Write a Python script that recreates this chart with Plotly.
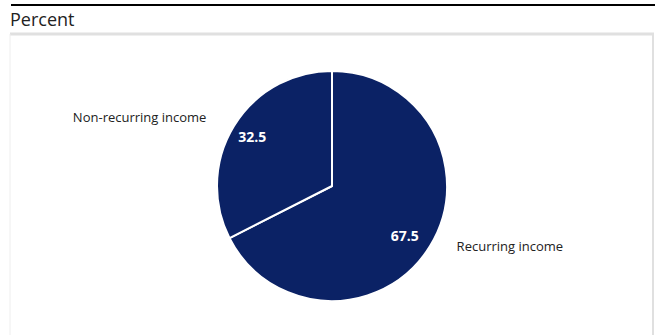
import plotly.graph_objects as go

labels = ["Recurring income", "Non-recurring income"]
values = [67.5, 32.5]
value_text = ["67.5", "32.5"]
title_text = "Percent"

NAVY = "#0b2265"
FONT = "Open Sans"

W, H = 659, 335

def px_dom(x0, x1, ytop, ybot):
    return dict(x=[x0 / W, x1 / W], y=[(H - ybot) / H, (H - ytop) / H])

CX, CY = 332, 186

def circle_dom(r, dx=0, dy=0):
    cx, cy = CX + dx, CY + dy
    return px_dom(cx - r, cx + r, cy - r, cy + r)

common = dict(labels=labels, values=values, sort=False, direction="clockwise", rotation=0,
              showlegend=False)

fig = go.Figure()

# main pie
fig.add_trace(go.Pie(
    **common, textinfo="none",
    marker=dict(colors=[NAVY, NAVY], line=dict(color="white", width=2)),
    domain=circle_dom(115),
    hoverinfo="label+value",
))

# per-slice transparent pies carrying values (white bold) and category labels
value_offsets = [(-9, 8), (2, -8)]
label_offsets = [(5, -13), (-6, 4)]
for i in range(len(labels)):
    vt = [value_text[j] if j == i else "" for j in range(len(labels))]
    fig.add_trace(go.Pie(
        **common, text=vt, textinfo="text", textposition="outside",
        marker=dict(colors=["rgba(0,0,0,0)"] * len(labels), line=dict(width=0)),
        textfont=dict(family=FONT, size=14, color="white", weight="bold"),
        domain=circle_dom(74, *value_offsets[i]),
        hoverinfo="skip",
    ))
    lt = [labels[j] if j == i else "" for j in range(len(labels))]
    fig.add_trace(go.Pie(
        **common, text=lt, textinfo="text", textposition="outside",
        marker=dict(colors=["rgba(0,0,0,0)"] * len(labels), line=dict(width=0)),
        textfont=dict(family=FONT, size=13, color="#222222"),
        domain=circle_dom(135, *label_offsets[i]),
        hoverinfo="skip",
    ))

fig.update_layout(
    width=W, height=H,
    margin=dict(l=0, r=0, t=0, b=0),
    paper_bgcolor="white", plot_bgcolor="white",
    annotations=[dict(
        text=title_text, x=8 / W, y=1 - 19 / H, xref="paper", yref="paper",
        xanchor="left", yanchor="middle", showarrow=False,
        font=dict(family=FONT, size=18, color="#222222"),
    )],
    shapes=[
        dict(type="line", xref="paper", yref="paper", x0=11 / W, x1=655 / W,
             y0=1 - 5 / H, y1=1 - 5 / H, line=dict(color="black", width=2)),
        dict(type="line", xref="paper", yref="paper", x0=10 / W, x1=654 / W,
             y0=1 - 34 / H, y1=1 - 34 / H, line=dict(color="#e0e0e0", width=3)),
        dict(type="line", xref="paper", yref="paper", x0=10 / W, x1=10 / W,
             y0=0, y1=1 - 34 / H, line=dict(color="#eeeeee", width=1)),
        dict(type="line", xref="paper", yref="paper", x0=653 / W, x1=653 / W,
             y0=0, y1=1 - 34 / H, line=dict(color="#e0e0e0", width=2)),
    ],
)

fig.write_html("out.html")
